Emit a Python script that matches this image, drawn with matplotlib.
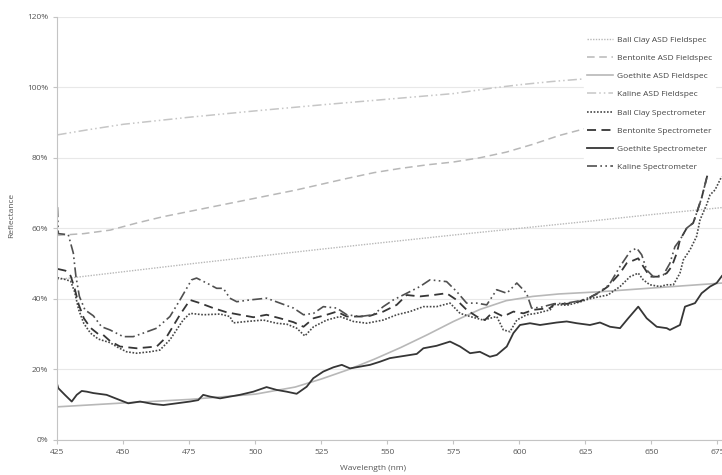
import matplotlib

matplotlib.use("Agg")
import matplotlib.pyplot as plt
from matplotlib.ticker import FuncFormatter

plt.rcParams["font.family"] = ["Open Sans", "DejaVu Sans"]

# ASD Fieldspec reference spectra (wavelength nm, reflectance %)
ballclay_asd_wl = [425, 450, 475, 500, 525, 550, 575, 600, 625, 650, 677]
ballclay_asd = [45.5, 47.7, 49.9, 52.0, 54.1, 56.1, 58.1, 60.0, 61.9, 63.9, 65.9]

bentonite_asd_wl = [425, 435, 445, 455, 465, 475, 485, 495, 505, 515, 525,
                    535, 545, 555, 565, 575, 585, 595, 605, 615, 625]
bentonite_asd = [58.0, 58.5, 59.5, 61.5, 63.3, 64.8, 66.3, 67.8, 69.3, 70.8, 72.5,
                 74.2, 75.8, 77.0, 78.0, 78.8, 80.0, 81.6, 83.8, 86.3, 88.3]

goethite_asd_wl = [425, 450, 475, 500, 515, 525, 535, 545, 555, 565, 575,
                   585, 595, 605, 615, 630, 645, 660, 677]
goethite_asd = [9.4, 10.5, 11.5, 13.0, 15.0, 17.3, 19.9, 22.9, 26.2, 29.8, 33.6,
                37.0, 39.5, 40.7, 41.4, 42.0, 42.8, 43.6, 44.5]

kaline_asd_wl = [425, 437, 450, 475, 500, 525, 550, 575, 590, 600, 612, 625]
kaline_asd = [86.5, 88.0, 89.5, 91.5, 93.3, 95.0, 96.6, 98.2, 99.8, 100.7, 101.6, 102.4]

# Spectrometer measurements
ballclay_spec_wl = [425.0, 428.0, 430.0, 431.5, 433.0, 435.0, 437.5, 440.5, 444.9, 448.0,
                    451.2, 455.0, 460.0, 463.8, 467.6, 472.6, 475.2, 480.2, 486.6, 490.3,
                    491.6, 496.7, 503.0, 508.0, 512.0, 515.6, 518.7, 522.0, 527.0, 532.0,
                    537.1, 542.2, 548.4, 553.5, 558.5, 563.6, 568.6, 573.7, 577.5, 581.3,
                    586.3, 591.4, 593.9, 596.4, 599.0, 602.7, 606.5, 611.6, 613.2, 618.0,
                    622.8, 626.4, 630.1, 633.5, 638.1, 641.9, 645.0, 646.9, 649.4, 653.2,
                    655.8, 658.3, 660.8, 662.1, 664.6, 667.1, 668.4, 670.9, 672.2, 674.1,
                    676.6]
ballclay_spec = [46.0, 45.5, 45.0, 42.0, 37.0, 33.0, 30.3, 28.6, 27.6, 26.2,
                 25.0, 24.6, 25.0, 25.5, 28.4, 34.0, 35.9, 35.5, 35.7, 35.0,
                 33.2, 33.6, 34.0, 33.1, 32.8, 31.7, 29.5, 32.1, 34.0, 35.0,
                 33.6, 33.1, 34.0, 35.5, 36.4, 37.8, 37.8, 38.8, 35.9, 35.0,
                 34.0, 35.0, 31.2, 30.7, 34.0, 35.5, 35.9, 36.9, 38.4, 38.2,
                 39.1, 40.0, 40.6, 41.1, 43.5, 46.3, 47.3, 45.4, 44.0, 43.5,
                 44.0, 44.0, 47.3, 51.1, 53.9, 57.7, 62.4, 66.7, 69.5, 70.9,
                 74.7]

bentonite_spec_wl = [425.0, 428.0, 430.0, 431.5, 433.0, 435.0, 437.5, 440.5, 442.3, 445.0,
                     448.7, 455.0, 462.6, 466.4, 471.4, 475.2, 479.0, 484.0, 489.1, 494.1,
                     499.2, 504.2, 509.3, 514.4, 518.2, 522.0, 527.0, 530.8, 534.6, 539.6,
                     543.4, 548.4, 553.5, 557.3, 562.3, 567.4, 572.4, 576.2, 580.0, 583.8,
                     586.9, 590.1, 593.9, 597.7, 601.5, 605.3, 611.6, 613.2, 618.0, 622.8,
                     626.4, 630.1, 633.5, 638.1, 640.6, 645.0, 646.9, 649.4, 653.2, 655.8,
                     657.7, 659.6, 660.8, 663.4, 665.8, 667.1, 669.0, 670.9, 671.5]
bentonite_spec = [48.5, 48.0, 46.5, 43.0, 38.5, 34.5, 31.8, 30.0, 29.8, 28.0,
                  26.5, 26.0, 26.5, 29.3, 35.5, 39.7, 38.8, 37.4, 36.2, 35.5,
                  34.8, 35.5, 34.5, 33.4, 32.1, 34.5, 35.5, 36.4, 35.0, 35.0,
                  35.2, 36.4, 38.3, 41.1, 40.7, 41.1, 41.6, 39.7, 36.9, 35.0,
                  34.0, 36.4, 35.0, 36.4, 35.9, 36.9, 37.4, 38.6, 38.6, 39.3,
                  40.3, 41.7, 43.5, 47.3, 50.1, 51.5, 49.2, 46.3, 46.3, 47.3,
                  49.2, 53.0, 56.7, 60.1, 61.5, 64.3, 68.6, 74.2, 76.0]

goethite_spec_wl = [425.0, 425.3, 427.8, 430.4, 432.3, 434.2, 436.1, 438.6, 443.6, 448.7,
                    451.8, 456.3, 461.3, 465.1, 470.2, 475.2, 478.3, 480.2, 482.8, 486.6,
                    490.3, 494.1, 499.2, 504.2, 508.0, 511.8, 515.6, 519.4, 521.9, 525.7,
                    529.5, 532.7, 535.8, 539.6, 543.4, 547.2, 550.9, 556.0, 561.1, 563.6,
                    568.6, 573.7, 577.5, 581.3, 585.0, 588.8, 591.4, 595.2, 597.7, 600.2,
                    604.0, 607.8, 614.1, 617.9, 621.7, 626.7, 630.5, 634.3, 638.1, 641.2,
                    645.0, 648.2, 652.0, 655.8, 657.0, 660.8, 662.7, 666.5, 669.0, 672.2,
                    674.7, 676.7]
goethite_spec = [15.5, 14.7, 12.8, 10.9, 12.8, 13.9, 13.7, 13.3, 12.8, 11.3,
                 10.4, 10.9, 10.2, 9.9, 10.4, 10.9, 11.3, 12.8, 12.3, 11.8,
                 12.3, 12.8, 13.7, 15.0, 14.2, 13.7, 13.1, 15.1, 17.5, 19.4,
                 20.6, 21.3, 20.3, 20.8, 21.3, 22.2, 23.2, 23.8, 24.4, 26.0,
                 26.7, 27.9, 26.5, 24.6, 25.0, 23.6, 24.1, 26.5, 30.3, 32.6,
                 33.1, 32.6, 33.3, 33.6, 33.1, 32.6, 33.3, 32.1, 31.7, 34.5,
                 37.8, 34.5, 32.1, 31.7, 31.2, 32.6, 37.8, 38.8, 41.6, 43.5,
                 44.5, 46.5]

kaline_spec_wl = [425.0, 425.3, 429.1, 431.0, 432.0, 433.3, 435.4, 438.6, 441.7, 444.9,
                  449.9, 453.7, 457.5, 462.6, 467.6, 471.4, 475.8, 477.7, 481.5, 485.3,
                  487.8, 490.3, 492.9, 497.9, 504.2, 509.3, 514.4, 518.2, 522.0, 525.7,
                  530.8, 534.6, 539.6, 544.6, 548.4, 552.2, 557.3, 562.3, 566.1, 568.6,
                  572.4, 576.2, 580.0, 583.8, 587.6, 591.4, 595.2, 599.0, 602.7, 604.6,
                  608.0, 613.0, 618.0, 623.0, 626.5, 630.0, 634.0, 638.1, 641.9, 644.4,
                  646.3, 648.2, 650.7, 654.5, 657.0, 658.9, 660.8, 663.4, 665.8, 667.1,
                  669.0, 670.9]
kaline_spec = [66.0, 58.5, 58.2, 53.0, 46.3, 40.7, 36.9, 35.2, 32.1, 31.2,
               29.3, 29.3, 30.3, 31.7, 35.0, 39.7, 45.4, 45.9, 44.5, 43.0,
               43.0, 40.2, 39.2, 39.7, 40.2, 38.8, 37.4, 35.5, 35.9, 37.8,
               37.4, 35.5, 35.0, 35.5, 37.8, 39.7, 41.6, 43.5, 45.4, 45.2,
               44.9, 42.1, 38.8, 38.8, 38.3, 42.6, 41.6, 44.5, 41.6, 37.4,
               37.6, 38.6, 38.8, 39.5, 40.4, 41.8, 44.0, 49.2, 53.4, 54.4,
               52.5, 48.2, 46.3, 46.8, 50.1, 54.8, 56.7, 60.1, 61.5, 64.3,
               68.6, 74.2]

LIGHT = "#b8b8b8"
DARK = "#363636"
DOT = (0, (1, 1))
DASH = (0, (5, 3))
DASHDOTDOT = (0, (6, 2, 1, 2, 1, 2))

series = [
    ("Ball Clay ASD Fieldspec", ballclay_asd_wl, ballclay_asd, LIGHT, DOT, 1.0),
    ("Bentonite ASD Fieldspec", bentonite_asd_wl, bentonite_asd, LIGHT, DASH, 1.1),
    ("Goethite ASD Fieldspec", goethite_asd_wl, goethite_asd, LIGHT, "-", 1.2),
    ("Kaline ASD Fieldspec", kaline_asd_wl, kaline_asd, "#c6c6c6", DASHDOTDOT, 1.1),
    ("Ball Clay Spectrometer", ballclay_spec_wl, ballclay_spec, "#474747", DOT, 1.2),
    ("Bentonite Spectrometer", bentonite_spec_wl, bentonite_spec, DARK, DASH, 1.3),
    ("Goethite Spectrometer", goethite_spec_wl, goethite_spec, DARK, "-", 1.3),
    ("Kaline Spectrometer", kaline_spec_wl, kaline_spec, "#505050", DASHDOTDOT, 1.2),
]

fig = plt.figure(figsize=(7.22, 4.75), dpi=100)
ax = fig.add_axes([0.0796, 0.0737, 1.0055, 0.8912])

for label, wl, val, color, ls, lw in series:
    ax.plot(wl, val, color=color, linestyle=ls, linewidth=lw, label=label)

ax.set_xlim(425, 700)
ax.set_ylim(0, 120)
ax.set_xticks(range(425, 701, 25))
ax.set_yticks(range(0, 121, 20))
ax.yaxis.set_major_formatter(FuncFormatter(lambda v, p: f"{v:.0f}%"))
ax.grid(axis="y", color="#e8e8e8", linewidth=0.8)
ax.set_axisbelow(True)

for side in ("top", "right"):
    ax.spines[side].set_visible(False)
for side in ("left", "bottom"):
    ax.spines[side].set_color("#c4c4c4")
    ax.spines[side].set_linewidth(0.8)

ax.tick_params(axis="both", colors="#c4c4c4", labelcolor="#555555",
               labelsize=6, length=3, width=0.8)

ax.set_xlabel("Wavelength (nm)", fontsize=6, color="#555555")
ax.xaxis.set_label_coords(0.435, -0.058)
ax.set_ylabel("Reflectance", fontsize=6, color="#555555")
ax.yaxis.set_label_coords(-0.058, 0.53)

leg = ax.legend(loc="upper left", bbox_to_anchor=(0.809, 0.93),
                bbox_transform=fig.transFigure, fontsize=6, frameon=True,
                handlelength=3.2, handletextpad=0.5, labelspacing=1.25,
                borderpad=0.3, borderaxespad=0)
leg.get_frame().set_facecolor("white")
leg.get_frame().set_edgecolor("white")
leg.get_frame().set_alpha(1.0)
for t in leg.get_texts():
    t.set_color("#444444")

fig.savefig("out.png", dpi=100)
